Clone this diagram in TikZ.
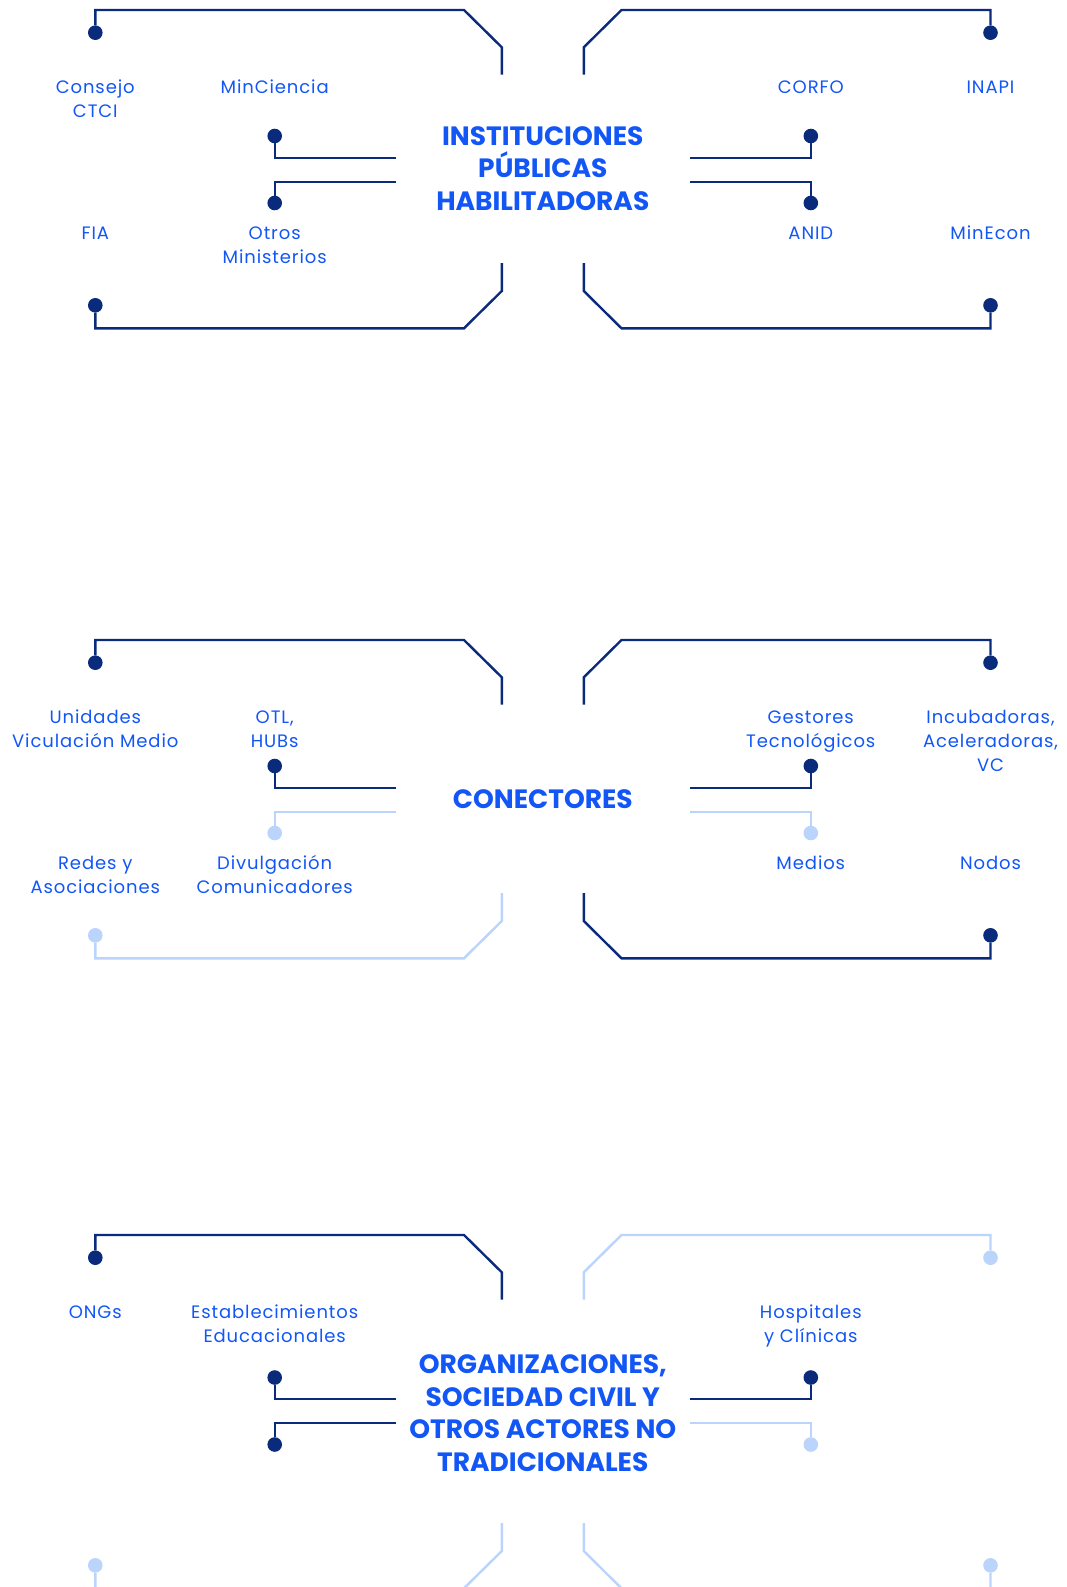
\documentclass[tikz,border=0pt]{standalone}
\usepackage{fontspec}
\setmainfont{Poppins}
\definecolor{cNavy}{RGB}{10,43,124}
\definecolor{cPale}{RGB}{186,212,252}
\definecolor{cInk}{RGB}{18,86,246}
\tikzset{
 pin/.style={circle, fill=#1, minimum size=14.6pt, inner sep=0pt, outer sep=0pt},
 wire/.style={draw=#1, line width=2.4pt},
 lbl/.style={text=cInk, font=\fontsize{18}{23.8}\selectfont\addfontfeatures{LetterSpace=5}, align=center, anchor=base, inner sep=0pt},
 ttl/.style={text=cInk, font=\fontsize{26.5}{32.5}\selectfont\bfseries, align=center, inner sep=0pt},
}
\def\xLo{95.3}\def\xLi{274.7}\def\xLs{395.5}\def\xLk{464}\def\xLd{501.8}
\def\xRo{990.5}\def\xRi{810.8}\def\xRs{690}\def\xRk{621.5}\def\xRd{583.8}
\def\xC{542.8}
% #1 prefix, #2 top offset, #3 inner offset, #4 bottom offset
\newcommand\Sect[4]{%
 \node[pin=\cA] (#1a) at (\xLo,{#2+32.7}) {};
 \coordinate (#1ak) at (\xLk,{#2+10});
 \coordinate (#1ad) at (\xLd,{#2+47.3});
 \coordinate (#1ae) at (\xLd,{#2+74.7});
 \draw[wire=\cA] (#1a) |- (#1ak) -- (#1ad) -- (#1ae);
 \node[pin=\cB] (#1b) at (\xRo,{#2+32.7}) {};
 \coordinate (#1bk) at (\xRk,{#2+10});
 \coordinate (#1bd) at (\xRd,{#2+47.3});
 \coordinate (#1be) at (\xRd,{#2+74.7});
 \draw[wire=\cB] (#1b) |- (#1bk) -- (#1bd) -- (#1be);
 \node[pin=\cC] (#1c) at (\xLi,{#3+136}) {};
 \coordinate (#1ce) at (\xLs,{#3+157.7});
 \draw[wire=\cC] (#1c) |- (#1ce);
 \node[pin=\cD] (#1d) at (\xLi,{#3+203}) {};
 \coordinate (#1de) at (\xLs,{#3+181.7});
 \draw[wire=\cD] (#1d) |- (#1de);
 \node[pin=\cE] (#1e) at (\xRi,{#3+136}) {};
 \coordinate (#1ee) at (\xRs,{#3+157.7});
 \draw[wire=\cE] (#1e) |- (#1ee);
 \node[pin=\cF] (#1f) at (\xRi,{#3+203}) {};
 \coordinate (#1fe) at (\xRs,{#3+181.7});
 \draw[wire=\cF] (#1f) |- (#1fe);
 \node[pin=\cG] (#1g) at (\xLo,{#4+305.3}) {};
 \coordinate (#1gk) at (\xLk,{#4+328.3});
 \coordinate (#1gd) at (\xLd,{#4+291});
 \coordinate (#1ge) at (\xLd,{#4+263});
 \draw[wire=\cG] (#1g) |- (#1gk) -- (#1gd) -- (#1ge);
 \node[pin=\cH] (#1h) at (\xRo,{#4+305.3}) {};
 \coordinate (#1hk) at (\xRk,{#4+328.3});
 \coordinate (#1hd) at (\xRd,{#4+291});
 \coordinate (#1he) at (\xRd,{#4+263});
 \draw[wire=\cH] (#1h) |- (#1hk) -- (#1hd) -- (#1he);
}
\newcommand\SetCols[8]{\def\cA{#1}\def\cB{#2}\def\cC{#3}\def\cD{#4}\def\cE{#5}\def\cF{#6}\def\cG{#7}\def\cH{#8}}
\begin{document}
\begin{tikzpicture}[x=1pt,y=-1pt]
\path[use as bounding box] (0,0) rectangle (1067,1587);
\clip (0,0) rectangle (1067,1587);

% Section 1
\SetCols{cNavy}{cNavy}{cNavy}{cNavy}{cNavy}{cNavy}{cNavy}{cNavy}
\Sect{p}{0}{0}{0}
\node[ttl] (t1) at (\xC,168.5) {INSTITUCIONES\\PÚBLICAS\\HABILITADORAS};
\node[lbl] (l1a) at (\xLo,117.3) {Consejo\\CTCI};
\node[lbl] (l1b) at (\xLi,93.5) {MinCiencia};
\node[lbl] (l1c) at (\xRi,93.5) {CORFO};
\node[lbl] (l1d) at (\xRo,93.5) {INAPI};
\node[lbl] (l1e) at (\xLo,239.5) {FIA};
\node[lbl] (l1f) at (\xLi,263.3) {Otros\\Ministerios};
\node[lbl] (l1g) at (\xRi,239.5) {ANID};
\node[lbl] (l1h) at (\xRo,239.5) {MinEcon};

% Section 2
\SetCols{cNavy}{cNavy}{cNavy}{cPale}{cNavy}{cPale}{cPale}{cNavy}
\Sect{q}{630}{630}{630}
\node[ttl] (t2) at (\xC,799) {CONECTORES};
\node[lbl] (l2a) at (\xLo,747.3) {Unidades\\Viculación Medio};
\node[lbl] (l2b) at (\xLi,747.3) {OTL,\\HUBs};
\node[lbl] (l2c) at (\xRi,747.3) {Gestores\\Tecnológicos};
\node[lbl] (l2d) at (\xRo,771.1) {Incubadoras,\\Aceleradoras,\\VC};
\node[lbl] (l2e) at (\xLo,893.3) {Redes y\\Asociaciones};
\node[lbl] (l2f) at (\xLi,893.3) {Divulgación\\Comunicadores};
\node[lbl] (l2g) at (\xRi,869.5) {Medios};
\node[lbl] (l2h) at (\xRo,869.5) {Nodos};

% Section 3
\SetCols{cNavy}{cPale}{cNavy}{cNavy}{cNavy}{cPale}{cPale}{cPale}
\Sect{r}{1225}{1241.5}{1260}
\node[ttl] (t3) at (\xC,1413) {ORGANIZACIONES,\\SOCIEDAD CIVIL Y\\OTROS ACTORES NO\\TRADICIONALES};
\node[lbl] (l3a) at (\xLo,1318.5) {ONGs};
\node[lbl] (l3b) at (\xLi,1342.3) {Establecimientos\\Educacionales};
\node[lbl] (l3c) at (\xRi,1342.3) {Hospitales\\y Clínicas};
\end{tikzpicture}
\end{document}
